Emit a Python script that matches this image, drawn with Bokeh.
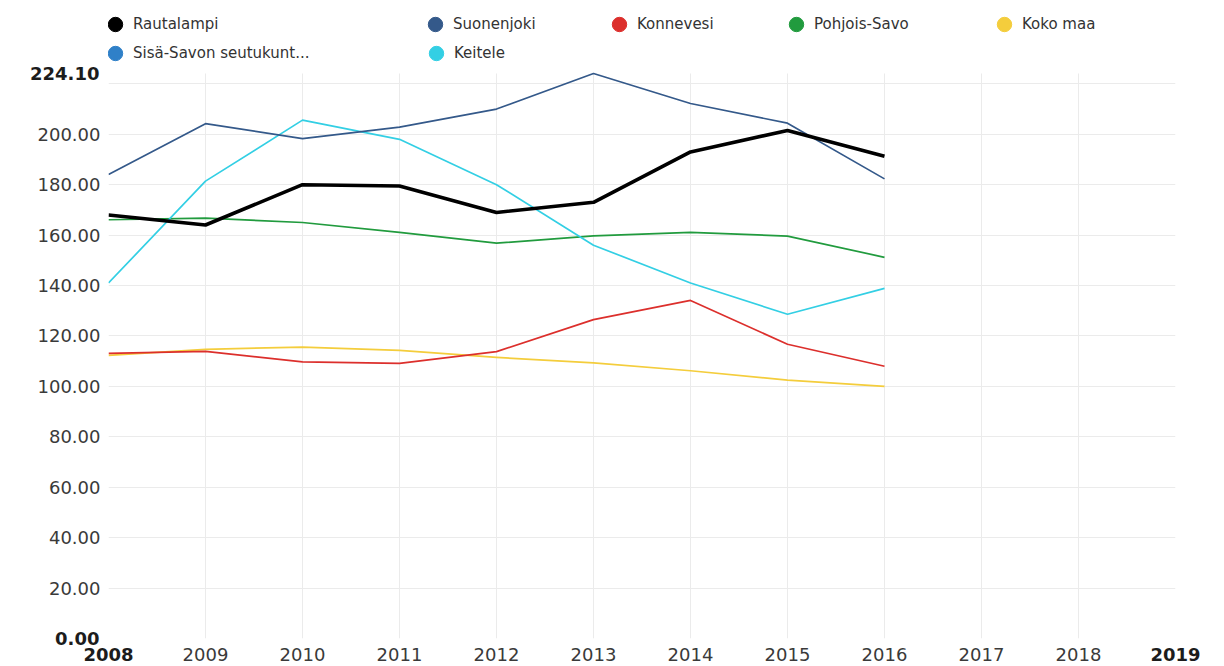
import numpy as np
from bokeh.plotting import figure
from bokeh.models import (Range1d, FixedTicker, Legend, LegendItem, PrintfTickFormatter,
                          ColumnDataSource, LinearAxis, Grid)
from bokeh.embed import file_html
from bokeh.resources import INLINE

# ---------------- data ----------------
years = [2008, 2009, 2010, 2011, 2012, 2013, 2014, 2015, 2016]
axis_years = [2008, 2009, 2010, 2011, 2012, 2013, 2014, 2015, 2016, 2017, 2018, 2019]

rautalampi = [168.0, 164.0, 180.0, 179.5, 169.0, 173.0, 193.0, 201.5, 191.3]
suonenjoki = [184.0, 204.2, 198.3, 202.8, 210.0, 224.1, 212.2, 204.4, 182.3]
konnevesi = [113.1, 113.9, 109.7, 109.1, 113.8, 126.5, 134.1, 116.7, 108.0]
pohjois_savo = [166.1, 166.7, 165.0, 161.1, 156.8, 159.7, 161.1, 159.6, 151.2]
koko_maa = [112.3, 114.7, 115.6, 114.3, 111.5, 109.3, 106.2, 102.5, 100.0]
sisa_savo = [None, None, None, None, None, None, None, None, None]
keitele = [141.0, 181.4, 205.6, 198.0, 180.0, 156.0, 141.0, 128.6, 138.9]

series_names = ["Rautalampi", "Suonenjoki", "Konnevesi", "Pohjois-Savo", "Koko maa",
                "Sisä-Savon seutukunt...", "Keitele"]
series_values = [rautalampi, suonenjoki, konnevesi, pohjois_savo, koko_maa, sisa_savo, keitele]
series_colors = ["#000000", "#34598a", "#dc2f2c", "#219b3e", "#f4cd3c", "#2f80c8", "#33cfe4"]
series_widths = [3.6, 1.7, 1.7, 1.7, 1.7, 1.7, 1.7]

y_tick_values = [20, 40, 60, 80, 100, 120, 140, 160, 180, 200]
y_grid_values = [0, 20, 40, 60, 80, 100, 120, 140, 160, 180, 200, 220]
x_normal_ticks = [2009, 2010, 2011, 2012, 2013, 2014, 2015, 2016, 2017, 2018]

FONT = "DejaVu Sans"
TICK_SIZE = "18px"

all_vals = [v for s in series_values for v in s if v is not None]
y_min = 0.0
y_max = max(all_vals)

# ---------------- layout (pixels) ----------------
FRAME_W = 1067
DATA_H = 565          # height of the data area
TOP_PAD = 73          # legend area above the data area (inside the frame)
BORDER_L, BORDER_R, BORDER_B = 108, 41, 28

units_per_px = (y_max - y_min) / DATA_H
y_top = y_max + TOP_PAD * units_per_px

p = figure(frame_width=FRAME_W, frame_height=DATA_H + TOP_PAD,
           x_range=Range1d(axis_years[0], axis_years[-1]),
           y_range=Range1d(y_min, y_top),
           output_backend="svg", toolbar_location=None,
           min_border_left=BORDER_L, min_border_right=BORDER_R,
           min_border_top=0, min_border_bottom=BORDER_B)
p.outline_line_color = None

order = [5, 4, 2, 3, 6, 1, 0]
for i in order:
    vals = [np.nan if v is None else v for v in series_values[i]]
    src = ColumnDataSource(dict(x=years, y=vals))
    p.line("x", "y", source=src, line_color=series_colors[i], line_width=series_widths[i],
           line_join="round")


def style_axis(ax, bold=False):
    ax.axis_line_color = None
    ax.major_tick_line_color = None
    ax.minor_tick_line_color = None
    ax.major_tick_out = 0
    ax.major_tick_in = 0
    ax.major_label_text_font = FONT
    ax.major_label_text_font_size = TICK_SIZE
    if bold:
        ax.major_label_text_font_style = "bold"
        ax.major_label_text_color = "#1c1c1c"
    else:
        ax.major_label_text_color = "#3a3a3a"


# normal axes (next to the frame)
yax = p.yaxis[0]
yax.ticker = FixedTicker(ticks=y_tick_values)
yax.formatter = PrintfTickFormatter(format="%.2f")
yax.major_label_standoff = 8
style_axis(yax)

xax = p.xaxis[0]
xax.ticker = FixedTicker(ticks=x_normal_ticks)
xax.major_label_standoff = 9
style_axis(xax)

# bold axes for the first and last tick labels; stacked outside the normal ones,
# pulled back onto the same line with a negative standoff
yax_b = LinearAxis(ticker=FixedTicker(ticks=[y_min, y_max]),
                   formatter=PrintfTickFormatter(format="%.2f"),
                   major_label_standoff=-65)
style_axis(yax_b, bold=True)
p.add_layout(yax_b, "left")

xax_b = LinearAxis(ticker=FixedTicker(ticks=[axis_years[0], axis_years[-1]]),
                   major_label_standoff=-16)
style_axis(xax_b, bold=True)
p.add_layout(xax_b, "below")

# grids
p.ygrid.ticker = FixedTicker(ticks=y_grid_values)
p.ygrid.grid_line_color = "#ebebeb"
if "cross_bounds" in Grid.properties():
    p.xgrid.ticker = FixedTicker(ticks=x_normal_ticks)
    p.xgrid.grid_line_color = "#ebebeb"
    p.xgrid.cross_bounds = (y_min, y_max)
else:
    p.xgrid.visible = False
    p.segment(x0=x_normal_ticks, y0=[y_min] * len(x_normal_ticks),
              x1=x_normal_ticks, y1=[y_max] * len(x_normal_ticks),
              line_color="#ebebeb", line_width=1, level="underlay")

# legend: circle markers, one legend per entry
legend_renderers = []
for i in range(len(series_names)):
    r = p.scatter(x=[np.nan], y=[np.nan], marker="circle", size=16,
                  fill_color=series_colors[i], line_color=series_colors[i])
    legend_renderers.append(r)

GW = 36
FRAME_H = DATA_H + TOP_PAD
row_centers = [24, 53]  # px from top of the frame
entries = [(0, -11, 0), (1, 309, 0), (2, 493, 0), (3, 670, 0), (4, 878, 0),
           (5, -11, 1), (6, 310, 1)]
for i, xloc, row in entries:
    yc = row_centers[row]
    vy = FRAME_H - (yc + GW // 2)
    lg = Legend(items=[LegendItem(label=series_names[i], renderers=[legend_renderers[i]])],
                location=(xloc, vy), orientation="vertical",
                glyph_width=GW, glyph_height=GW, label_standoff=0, spacing=0,
                padding=0, margin=0, border_line_color=None, background_fill_alpha=0,
                label_text_font=FONT, label_text_font_size="15px",
                label_text_color="#333333", label_height=20)
    p.add_layout(lg, "center")

open("out.html", "w").write(file_html(p, INLINE))
